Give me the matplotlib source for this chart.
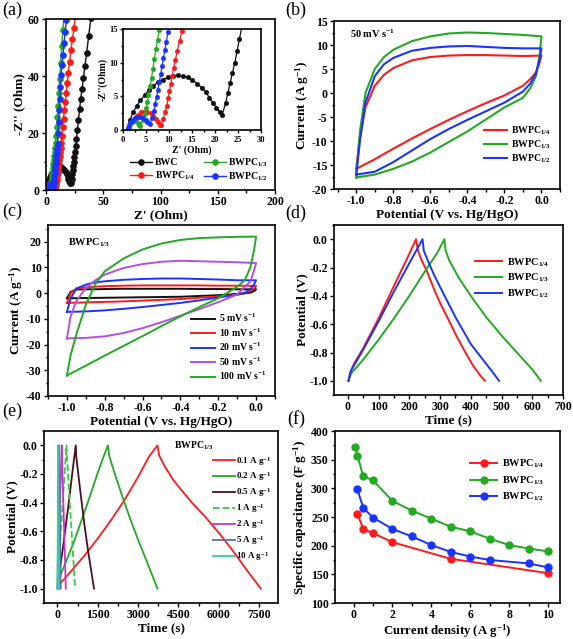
import matplotlib
matplotlib.use('Agg')
import matplotlib.pyplot as plt
from matplotlib.ticker import MultipleLocator, AutoMinorLocator

plt.rcParams['font.family'] = ['Liberation Serif', 'DejaVu Serif']
plt.rcParams['font.weight'] = 'bold'
plt.rcParams['axes.labelweight'] = 'bold'
plt.rcParams['mathtext.fontset'] = 'custom'
plt.rcParams['mathtext.rm'] = 'Liberation Serif:bold'
plt.rcParams['mathtext.it'] = 'Liberation Serif:bold'
plt.rcParams['mathtext.bf'] = 'Liberation Serif:bold'
plt.rcParams['axes.unicode_minus'] = False
plt.rcParams['axes.linewidth'] = 1.2

RED, GREEN, BLUE, BLACK = '#FF1A1A', '#22AA22', '#1A33FF', '#111111'

# ---- (a) Nyquist data (Z', -Z'') ----
bwc_x = [1.0, 1.5, 2.2, 3.0, 3.8, 4.7, 5.6, 6.6, 7.6, 8.6, 9.7, 10.8, 11.9, 13.0, 14.1, 15.1, 16.1,
         17.1, 18.0, 18.8, 19.6, 20.3, 21.0, 21.6, 22.3, 22.8, 23.3, 23.8, 24.3, 24.8, 25.3, 25.9,
         26.6, 27.4, 28.3, 29.3, 30.3, 31.5, 32.7, 34.0, 35.5, 37.3, 39.3]
bwc_y = [0.3, 1.5, 2.6, 3.6, 4.4, 5.2, 5.9, 6.6, 7.1, 7.5, 7.8, 8.0, 8.1, 8.0, 7.8, 7.4, 6.9,
         6.3, 5.6, 4.8, 4.0, 3.3, 2.6, 2.3, 4.0, 5.5, 7.0, 8.5, 10.0, 11.7, 13.5, 15.5,
         18.0, 21.0, 24.5, 28.3, 31.8, 35.5, 39.3, 43.5, 48.0, 54.2, 60.5]
p14_x = [1.0, 1.4, 1.9, 2.5, 3.2, 3.9, 4.6, 5.3, 6.0, 6.6, 7.1, 7.6, 8.0, 8.2, 8.7, 9.1, 9.5, 9.8,
         10.1, 10.4, 10.7, 11.0, 11.4, 11.8, 12.3, 12.8, 13.3, 13.9, 14.6, 15.3, 16.0, 16.8, 17.6,
         18.5, 19.5, 20.6, 21.8, 23.1, 24.5, 25.8]
p14_y = [0.1, 0.7, 1.3, 1.8, 2.3, 2.6, 2.7, 2.7, 2.5, 2.1, 1.7, 1.2, 0.8, 0.7, 1.6, 2.6, 3.6, 4.7,
         5.8, 6.9, 8.0, 9.2, 10.4, 11.8, 13.2, 14.7, 16.5, 19.0, 22.0, 25.0, 28.0, 31.0, 34.0,
         37.5, 41.0, 45.0, 49.0, 53.0, 57.0, 61.0]
p13_x = [1.0, 1.2, 1.4, 1.7, 2.0, 2.3, 2.6, 2.9, 3.2, 3.5, 3.7, 4.3, 4.7, 5.0, 5.3, 5.5, 5.9, 6.2,
         6.5, 6.8, 7.2, 7.5, 7.9, 8.3, 8.8, 9.3, 9.9, 10.5, 11.2, 12.0, 12.8, 13.7, 14.7, 15.8]
p13_y = [0.1, 0.5, 0.8, 1.1, 1.3, 1.4, 1.4, 1.3, 1.0, 0.8, 0.6, 1.5, 2.4, 3.2, 4.2, 5.2, 6.5, 7.7,
         9.1, 10.6, 12.0, 13.4, 14.9, 16.5, 19.0, 22.0, 25.5, 29.5, 34.0, 39.0, 44.5, 50.5, 56.0, 61.5]
p12_x = [1.0, 1.3, 1.6, 2.0, 2.4, 2.9, 3.4, 3.9, 4.4, 4.9, 5.3, 5.8, 6.3, 6.7, 7.0, 7.3, 7.6, 7.9,
         8.2, 8.5, 8.8, 9.1, 9.4, 9.8, 10.2, 10.6, 11.0, 11.5, 12.0, 12.6, 13.3, 14.0, 14.8, 15.7,
         16.7, 17.8, 18.5]
p12_y = [0.1, 0.6, 1.0, 1.4, 1.7, 1.9, 2.0, 2.0, 1.8, 1.5, 1.2, 0.9, 1.8, 2.8, 3.8, 4.9, 6.0, 7.1,
         8.3, 9.5, 10.7, 11.9, 13.1, 14.5, 16.0, 20.0, 24.0, 28.0, 32.0, 36.0, 40.5, 44.0, 47.5, 51.5,
         55.5, 59.5, 62.0]

# ---- (b) CV at 50 mV/s ----
cv_up_v = [-1.0, -0.98, -0.95, -0.9, -0.85, -0.8, -0.7, -0.6, -0.5, -0.4, -0.3, -0.2, -0.1, 0.0]
b13_up = [-17.6, -8.0, 0.0, 5.0, 7.5, 9.0, 10.8, 11.8, 12.4, 12.6, 12.5, 12.3, 12.1, 11.8]
b12_up = [-17.0, -10.0, -2.0, 3.5, 6.0, 7.3, 8.8, 9.4, 9.7, 9.8, 9.6, 9.4, 9.3, 9.3]
b14_up = [-15.8, -9.0, -3.0, 1.5, 3.8, 5.2, 6.8, 7.5, 7.8, 7.9, 7.9, 7.8, 7.7, 7.8]
cv_dn_v = [0.0, -0.01, -0.03, -0.06, -0.1, -0.2, -0.3, -0.4, -0.5, -0.6, -0.7, -0.8, -0.9, -1.0]
b13_dn = [11.8, 8.0, 3.5, 1.0, -1.0, -3.0, -5.5, -8.0, -10.2, -12.4, -14.3, -15.8, -17.0, -17.6]
b12_dn = [9.3, 7.0, 4.0, 2.0, 0.3, -2.0, -3.8, -5.6, -7.5, -9.6, -12.0, -14.4, -16.4, -17.0]
b14_dn = [7.8, 6.3, 4.3, 2.9, 1.5, -0.5, -2.1, -3.8, -5.6, -7.5, -9.5, -11.6, -13.8, -15.8]

# ---- (c) CV of BWPC1/3 at several scan rates ----
c_rates = ['5 mV s$^{-1}$', '10 mV s$^{-1}$', '20 mV s$^{-1}$', '50 mV s$^{-1}$', '100 mV s$^{-1}$']
c_up = [[-2.0, 0.5, 1.4, 1.5, 1.5, 1.6, 1.7, 1.7, 1.7, 1.7, 1.6, 1.6, 1.5, 1.5],
        [-3.8, 0.0, 1.8, 2.3, 2.5, 2.7, 2.9, 3.0, 3.0, 3.0, 3.0, 2.9, 2.9, 2.8],
        [-7.3, -2.0, 1.8, 3.3, 4.2, 4.6, 5.2, 5.5, 5.7, 5.7, 5.5, 5.3, 5.0, 5.0],
        [-17.6, -9.0, -3.0, 2.0, 5.0, 7.2, 9.8, 11.3, 12.2, 12.6, 12.4, 12.2, 12.0, 11.7],
        [-32.0, -24.0, -16.0, -4.5, 3.5, 8.5, 13.5, 17.0, 19.3, 20.7, 21.4, 21.7, 21.9, 22.0]]
c_dn = [[1.5, 0.8, 0.2, -0.1, -0.3, -0.8, -1.1, -1.4, -1.5, -1.6, -1.7, -1.8, -1.9, -2.0],
        [2.8, 1.8, 0.8, 0.0, -0.6, -1.3, -1.8, -2.3, -2.6, -2.9, -3.2, -3.4, -3.6, -3.8],
        [5.0, 3.5, 1.5, 0.2, -0.6, -1.7, -2.8, -3.8, -4.6, -5.4, -6.1, -6.7, -7.1, -7.3],
        [11.7, 9.0, 4.5, 2.5, -0.5, -3.5, -6.2, -8.8, -11.3, -13.6, -15.5, -16.8, -17.4, -17.6],
        [22.0, 17.0, 10.0, 5.0, 2.5, -2.0, -5.4, -9.0, -12.8, -16.7, -20.5, -24.3, -28.2, -32.0]]
c_colors = [BLACK, RED, BLUE, '#B44FE0', GREEN]

# ---- (d) GCD at 1 A/g ----
d14_t = [2, 8, 20, 50, 100, 150, 190, 222, 228, 240, 256, 280, 300, 330, 355, 380, 408, 430, 446]
d14_v = [-1.0, -0.94, -0.88, -0.77, -0.56, -0.33, -0.15, 0.0, -0.08, -0.15, -0.22, -0.35, -0.45,
         -0.58, -0.69, -0.79, -0.895, -0.96, -1.0]
d13_t = [2, 10, 50, 100, 150, 200, 250, 290, 314, 318, 330, 360, 400, 450, 500, 550, 600, 628]
d13_v = [-1.0, -0.95, -0.85, -0.71, -0.56, -0.40, -0.23, -0.10, 0.0, -0.08, -0.15, -0.27, -0.40,
         -0.55, -0.68, -0.80, -0.92, -1.0]
d12_t = [2, 10, 50, 100, 150, 200, 243, 247, 260, 280, 310, 350, 400, 450, 475, 492]
d12_v = [-1.0, -0.93, -0.78, -0.58, -0.37, -0.17, 0.0, -0.08, -0.15, -0.25, -0.38, -0.55, -0.74,
         -0.88, -0.95, -1.0]

# ---- (e) GCD of BWPC1/3 at several current densities ----
e_labels = ['0.1 A g$^{-1}$', '0.2 A g$^{-1}$', '0.5 A g$^{-1}$', '1 A g$^{-1}$',
            '2 A g$^{-1}$', '5 A g$^{-1}$', '10 A g$^{-1}$']
e_t = [[120, 500, 1000, 1500, 2000, 2500, 3000, 3400, 3720, 3780, 4000, 4300, 4600, 5000, 5500,
        6000, 6500, 7000, 7560],
       [60, 300, 600, 900, 1200, 1500, 1750, 1880, 1920, 2100, 2400, 2700, 3000, 3300, 3720],
       [20, 200, 400, 600, 680, 700, 850, 1000, 1150, 1360],
       [10, 120, 250, 335, 345, 450, 560, 657],
       [5, 60, 120, 161, 166, 220, 270, 310],
       [3, 60, 65, 120],
       [2, 30, 33, 62]]
e_v = [[-0.96, -0.88, -0.77, -0.65, -0.52, -0.38, -0.22, -0.08, 0.0, -0.07, -0.15, -0.24, -0.31,
        -0.40, -0.50, -0.61, -0.73, -0.86, -1.0],
       [-0.93, -0.82, -0.68, -0.52, -0.36, -0.19, -0.06, 0.0, -0.07, -0.18, -0.35, -0.51, -0.66,
        -0.80, -1.0],
       [-0.96, -0.72, -0.43, -0.12, 0.0, -0.08, -0.32, -0.55, -0.75, -1.0],
       [-1.0, -0.62, -0.24, 0.0, -0.05, -0.38, -0.70, -1.0],
       [-1.0, -0.62, -0.24, 0.0, -0.05, -0.40, -0.72, -1.0],
       [-1.0, 0.0, -0.05, -1.0],
       [-1.0, 0.0, -0.05, -1.0]]
e_colors = [RED, GREEN, '#4A1020', '#33CC44', '#CC33CC', '#5A6FA8', '#33CCA0']
e_styles = ['-', '-', '-', '--', '-', '-', '-']

# ---- (f) specific capacitance ----
f14_x = [0.2, 0.5, 1, 2, 5, 10]
f14_y = [256, 229, 222, 206, 177, 152]
f13_x = [0.1, 0.2, 0.5, 1, 2, 3, 4, 5, 6, 7, 8, 9, 10]
f13_y = [372, 357, 321, 314, 278, 261, 247, 233, 225, 212, 201, 195, 190]
f12_x = [0.2, 0.5, 1, 2, 3, 4, 5, 6, 7, 9, 10]
f12_y = [298, 266, 249, 229, 216, 201, 189, 181, 175, 169, 162]

L14, L13, L12 = 'BWPC$_{1/4}$', 'BWPC$_{1/3}$', 'BWPC$_{1/2}$'

W, H = 573, 639
fig = plt.figure(figsize=(W / 100, H / 100), dpi=100)


def ax_px(l, t, r, b):
    return fig.add_axes([l / W, 1 - b / H, (r - l) / W, (b - t) / H])


def style(ax, fs=8.5):
    ax.tick_params(which='both', direction='out', top=False, right=False, labelsize=fs, width=1.0, pad=1.5)
    ax.tick_params(which='major', length=3)
    ax.tick_params(which='minor', length=1.8)
    ax.xaxis.set_minor_locator(AutoMinorLocator(2))
    ax.yaxis.set_minor_locator(AutoMinorLocator(2))
    for lab in ax.get_xticklabels() + ax.get_yticklabels():
        lab.set_fontweight('bold')


LABFS = 9.5

# (a)
ax = ax_px(46, 19, 275, 190)
mk = dict(marker='o', ms=4.2, lw=1.0, mew=0.5)
for x, y, c, lab in [(bwc_x, bwc_y, BLACK, 'BWC'), (p14_x, p14_y, RED, L14),
                     (p13_x, p13_y, GREEN, L13), (p12_x, p12_y, BLUE, L12)]:
    ax.plot(x, y, color=c, mec=c, mfc=c, label=lab, **mk)
ax.set_xlim(0, 200)
ax.set_ylim(0, 60)
ax.xaxis.set_major_locator(MultipleLocator(50))
ax.yaxis.set_major_locator(MultipleLocator(20))
style(ax)
ax.set_xlabel("Z' (Ohm)", fontsize=LABFS, labelpad=1)
ax.set_ylabel("-Z'' (Ohm)", fontsize=LABFS, labelpad=2)
ax.legend(ncol=2, loc='lower right', frameon=False, fontsize=7, handlelength=2.2,
          columnspacing=1.0, labelspacing=0.2, borderaxespad=0.3, handletextpad=0.3)

ins = ax_px(123, 29, 261, 130)
for x, y, c in [(bwc_x, bwc_y, BLACK), (p14_x, p14_y, RED), (p13_x, p13_y, GREEN), (p12_x, p12_y, BLUE)]:
    ins.plot(x, y, color=c, marker='o', ms=3.2, lw=0.9, mec=c, mfc=c, mew=0.4)
ins.set_xlim(0, 30)
ins.set_ylim(0, 15)
ins.xaxis.set_major_locator(MultipleLocator(5))
ins.yaxis.set_major_locator(MultipleLocator(5))
style(ins, fs=6)
ins.tick_params(which='major', length=2.5)
ins.tick_params(which='minor', length=1.5)
ins.set_xlabel("Z' (Ohm)", fontsize=7, labelpad=1)
ins.set_ylabel("-Z''(Ohm)", fontsize=7, labelpad=1)

# (b)
ax = ax_px(334, 21, 560, 189)
for up, dn, c, lab in [(b14_up, b14_dn, RED, L14), (b13_up, b13_dn, GREEN, L13), (b12_up, b12_dn, BLUE, L12)]:
    ax.plot(cv_up_v + cv_dn_v, up + dn, color=c, lw=1.5, label=lab)
ax.set_xlim(-1.12, 0.1)
ax.set_ylim(-20, 15)
ax.yaxis.set_major_locator(MultipleLocator(5))
style(ax)
ax.set_xticks([-1.0, -0.8, -0.6, -0.4, -0.2, 0.0])
ax.set_xlabel('Potential (V vs. Hg/HgO)', fontsize=LABFS, labelpad=1)
ax.set_ylabel('Current (A g$^{-1}$)', fontsize=LABFS, labelpad=1)
ax.text(0.07, 0.9, '50 mV s$^{-1}$', transform=ax.transAxes, fontsize=7.5)
ax.legend(loc='lower right', bbox_to_anchor=(0.99, 0.1), frameon=False, fontsize=7,
          handlelength=2.4, labelspacing=0.2, borderaxespad=0.3, handletextpad=0.4)

# (c)
ax = ax_px(48, 225, 275, 396)
for up, dn, c, lab in zip(c_up, c_dn, c_colors, c_rates):
    ax.plot(cv_up_v + cv_dn_v, up + dn, color=c, lw=1.4, label=lab)
ax.set_xlim(-1.1, 0.1)
ax.set_ylim(-40, 26.5)
ax.yaxis.set_major_locator(MultipleLocator(10))
style(ax)
ax.set_xticks([-1.0, -0.8, -0.6, -0.4, -0.2, 0.0])
ax.set_xlabel('Potential (V vs. Hg/HgO)', fontsize=LABFS, labelpad=1)
ax.set_ylabel('Current (A g$^{-1}$)', fontsize=LABFS, labelpad=1)
ax.text(0.09, 0.88, L13, transform=ax.transAxes, fontsize=7.5)
ax.legend(loc='lower right', bbox_to_anchor=(0.99, 0.04), frameon=False, fontsize=7,
          handlelength=2.4, labelspacing=0.22, borderaxespad=0.3, handletextpad=0.4)

# (d)
ax = ax_px(334, 225, 563, 395)
ax.plot(d14_t, d14_v, color=RED, lw=1.4, label=L14)
ax.plot(d13_t, d13_v, color=GREEN, lw=1.4, label=L13)
ax.plot(d12_t, d12_v, color=BLUE, lw=1.4, label=L12)
ax.set_xlim(-45, 700)
ax.set_ylim(-1.1, 0.1)
ax.xaxis.set_major_locator(MultipleLocator(100))
ax.yaxis.set_major_locator(MultipleLocator(0.2))
style(ax)
ax.set_xlabel('Time (s)', fontsize=LABFS, labelpad=1)
ax.set_ylabel('Potential (V)', fontsize=LABFS, labelpad=1)
ax.legend(loc='upper right', bbox_to_anchor=(0.97, 0.86), frameon=False, fontsize=7.5,
          handlelength=2.6, labelspacing=0.3, borderaxespad=0.3, handletextpad=0.4)

# (e)
ax = ax_px(44, 431, 278, 603)
for t, v, c, ls, lab in zip(e_t, e_v, e_colors, e_styles, e_labels):
    ax.plot(t, v, color=c, ls=ls, lw=1.3, label=lab)
ax.set_xlim(-500, 8200)
ax.set_ylim(-1.1, 0.1)
ax.xaxis.set_major_locator(MultipleLocator(1500))
ax.yaxis.set_major_locator(MultipleLocator(0.2))
style(ax)
ax.xaxis.set_minor_locator(MultipleLocator(750))
ax.set_xlabel('Time (s)', fontsize=LABFS, labelpad=1)
ax.set_ylabel('Potential (V)', fontsize=LABFS, labelpad=1)
ax.text(0.555, 0.9, L13, transform=ax.transAxes, fontsize=7)
ax.legend(loc='upper right', bbox_to_anchor=(1.0, 0.9), frameon=False, fontsize=6.5,
          handlelength=2.4, labelspacing=0.32, borderaxespad=0.3, handletextpad=0.2)

# (f)
ax = ax_px(335, 431, 560, 603)
for x, y, c, lab in [(f14_x, f14_y, RED, L14), (f13_x, f13_y, GREEN, L13), (f12_x, f12_y, BLUE, L12)]:
    ax.plot(x, y, color=c, marker='o', ms=5, lw=1.4, mec=c, mfc=c, label=lab)
ax.set_xlim(-0.95, 10.6)
ax.set_ylim(100, 400)
ax.xaxis.set_major_locator(MultipleLocator(2))
ax.yaxis.set_major_locator(MultipleLocator(50))
style(ax)
ax.set_xlabel('Current density (A g$^{-1}$)', fontsize=9.2, labelpad=0.5)
ax.set_ylabel('Specific capacitance (F g$^{-1}$)', fontsize=LABFS, labelpad=1)
ax.legend(loc='upper right', bbox_to_anchor=(0.97, 0.9), frameon=False, fontsize=7.5,
          handlelength=2.6, labelspacing=0.4, handletextpad=0.4)

for lab, x, y in [('(a)', 2, 2), ('(b)', 285, 2), ('(c)', 2, 203), ('(d)', 285, 205),
                  ('(e)', 2, 403), ('(f)', 287, 410)]:
    fig.text(x / W, 1 - y / H, lab, fontsize=13, fontweight='normal', va='top', ha='left')

fig.savefig('out.png', dpi=100)
